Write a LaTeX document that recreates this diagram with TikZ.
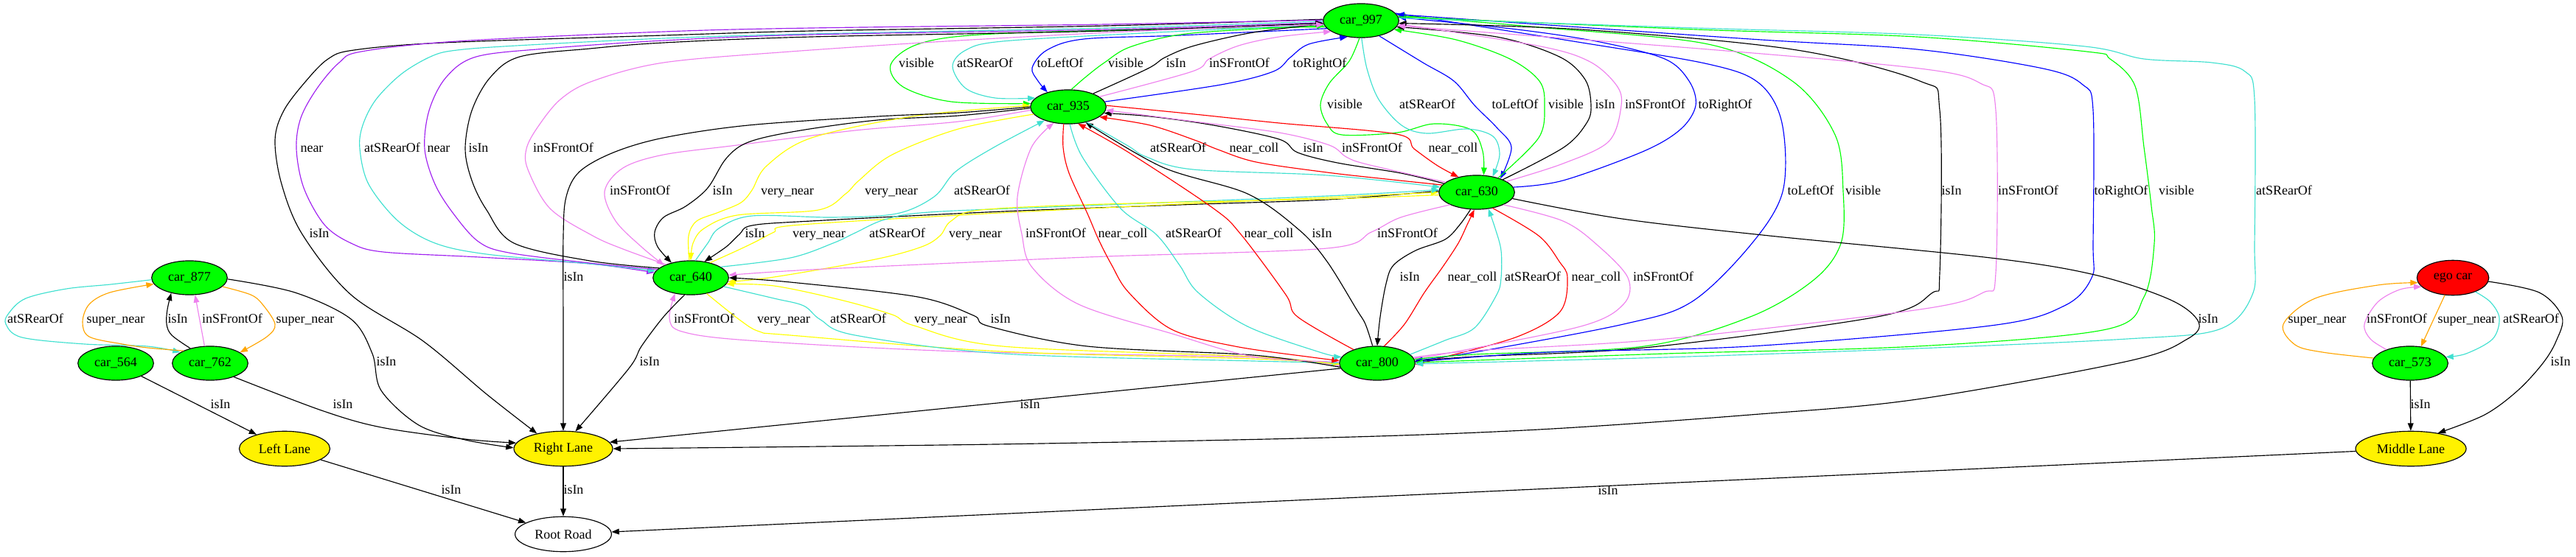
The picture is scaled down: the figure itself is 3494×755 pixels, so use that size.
\documentclass[tikz,border=0pt]{standalone}
\usepackage{fontspec}
\setmainfont{Liberation Serif}
\usetikzlibrary{arrows.meta,shapes.geometric}
\definecolor{cgreen}{HTML}{00FF00}
\definecolor{cturq}{HTML}{40E0D0}
\definecolor{cviol}{HTML}{EE82EE}
\definecolor{cpurp}{HTML}{A020F0}
\definecolor{cblue}{HTML}{0000FF}
\definecolor{cred}{HTML}{FF0000}
\definecolor{cyell}{HTML}{FFFF00}
\definecolor{corange}{HTML}{FFA500}
\newcommand\lblfont{\fontsize{14}{16}\selectfont}
\newcommand\elab[3]{\node[lbl] (#1) at (#2) {#3};}
\begin{document}
\begin{tikzpicture}[x=0.78pt,y=0.78pt,
  base/.style={ellipse, draw, line width=0.9pt, minimum height=36pt, inner sep=0pt, font=\lblfont},
  car/.style={base, fill=cgreen, minimum width=80pt},
  lane/.style={base, fill=yellow, minimum height=37pt},
  road/.style={base, fill=white, minimum width=102pt, minimum height=37pt},
  egon/.style={base, fill=red, minimum width=76pt, minimum height=37pt},
  lbl/.style={inner sep=0pt, font=\lblfont, text height=9pt, text depth=2.5pt},
  ed/.style={line width=0.9pt, -{Triangle[length=8pt,width=6pt]}},
  rin/.style={ed, draw=black},
  rvis/.style={ed, draw=cgreen},
  rrear/.style={ed, draw=cturq},
  rfront/.style={ed, draw=cviol},
  rleft/.style={ed, draw=cblue},
  rright/.style={ed, draw=cblue},
  rnear/.style={ed, draw=cpurp},
  rcoll/.style={ed, draw=cred},
  rvery/.style={ed, draw=cyell},
  rsuper/.style={ed, draw=corange},
  sm/.style={smooth, tension=0.55}
]
\useasboundingbox (0,0) rectangle (3494,-755);

% nodes
\node[car] (n997) at (1846,-28) {car\_997};
\node[car] (n935) at (1449,-145) {car\_935};
\node[car] (n630) at (2003,-261) {car\_630};
\node[car] (n640) at (937,-377) {car\_640};
\node[car] (n800) at (1868,-493) {car\_800};
\node[car] (n877) at (257,-377) {car\_877};
\node[car] (n564) at (157,-493) {car\_564};
\node[car] (n762) at (285,-493) {car\_762};
\node[lane, minimum width=96pt] (LL) at (386,-609) {Left Lane};
\node[lane, minimum width=104.5pt] (RL) at (764,-609) {Right Lane};
\node[road] (RR) at (764,-725) {Root Road};
\node[egon] (ego) at (3327,-377) {ego car};
\node[car] (n573) at (3269,-493) {car\_573};
\node[lane, minimum width=117pt] (ML) at (3270,-609) {Middle Lane};

% 997 <-> 935
\draw[rvis] plot[sm] coordinates {(n997.190) (1550,-40) (1330,-47) (1245,-60) (1208,-88) (1225,-118) (1290,-138) (n935.175)};
\draw[rrear] plot[sm] coordinates {(n997.186) (1550,-45) (1360,-56) (1310,-68) (1292,-90) (1310,-120) (1350,-133) (n935.165)};
\draw[rleft] plot[sm] coordinates {(n997.193) (1600,-48) (1470,-53) (1420,-68) (1400,-92) (1408,-110) (n935.145)};
\draw[rvis] plot[sm] coordinates {(n935.80) (1472,-105) (1498,-85) (1535,-63) (1617,-45) (n997.188)};
\draw[rin] plot[sm] coordinates {(n935.28) (1557,-93) (1580,-78) (1620,-62) (1700,-44) (n997.185)};
\draw[rfront] plot[sm] coordinates {(n935.18) (1617,-97) (1640,-80) (1680,-62) (1735,-50) (n997.200)};
\draw[rright] plot[sm] coordinates {(n935.8) (1656,-115) (1727,-97) (1750,-78) (1775,-60) (n997.230)};

% 997 <-> 630
\draw[rvis] plot[sm] coordinates {(n997.265) (1830,-83) (1803,-113) (1791,-142) (1800,-168) (1820,-183) (1895,-180) (1945,-168) (1995,-176) (2011,-205) (n630.68)};
\draw[rrear] plot[sm] coordinates {(n997.272) (1854,-93) (1870,-135) (1901,-170) (1935,-181) (1990,-175) (2025,-185) (2034,-210) (n630.45)};
\draw[rleft] plot[sm] coordinates {(n997.320) (1930,-85) (1972,-110) (2000,-143) (2030,-173) (2050,-200) (n630.30)};
\draw[rvis] plot[sm] coordinates {(n630.34) (2087,-187) (2095,-143) (2088,-110) (2048,-80) (1975,-54) (n997.345)};
\draw[rin] plot[sm] coordinates {(n630.26) (2121,-200) (2152,-167) (2158,-143) (2150,-108) (2115,-77) (2030,-50) (n997.350)};
\draw[rfront] plot[sm] coordinates {(n630.20) (2120,-222) (2182,-192) (2199,-143) (2192,-115) (2155,-83) (2085,-62) (n997.355)};
\draw[rright] plot[sm] coordinates {(n630.8) (2120,-245) (2230,-205) (2280,-175) (2300,-143) (2291,-110) (2258,-80) (2170,-57) (2058,-40) (n997.5)};

% 997 -> Right Lane, 997 <-> 640
\draw[rin] plot[sm] coordinates {(n997.178) (1500,-35) (1100,-42) (900,-48) (600,-58) (480,-68) (445,-80) (415,-110) (385,-150) (373,-190) (382,-250) (410,-318) (476,-400) (574,-463) (660,-535) (RL.150)};
\draw[rnear] plot[sm] coordinates {(n997.179) (1500,-33) (1100,-38) (900,-43) (620,-56) (490,-70) (460,-85) (430,-120) (408,-160) (402,-202) (412,-255) (440,-305) (476,-330) (520,-342) (650,-349) (800,-358) (n640.172)};
\draw[rrear] plot[sm] coordinates {(n997.181) (1500,-38) (1100,-46) (900,-52) (700,-62) (620,-68) (586,-76) (545,-100) (510,-135) (492,-170) (488,-202) (500,-250) (540,-300) (590,-330) (660,-345) (800,-358) (n640.169)};
\draw[rnear] plot[sm] coordinates {(n640.166) (800,-357) (690,-343) (649,-328) (615,-290) (590,-250) (576,-202) (582,-150) (605,-105) (646,-77) (740,-66) (900,-55) (1100,-47) (1500,-40) (n997.183)};
\draw[rin] plot[sm] coordinates {(n640.163) (800,-354) (697,-330) (660,-285) (640,-245) (631,-202) (640,-150) (665,-105) (705,-77) (800,-66) (900,-58) (1100,-50) (1500,-42) (n997.184)};
\draw[rfront] plot[sm] coordinates {(n640.152) (845,-338) (804,-320) (746,-283) (716,-230) (714,-202) (729,-173) (760,-135) (804,-110) (900,-85) (1072,-70) (1300,-55) (1550,-42) (n997.186)};

% 935 <-> 640
\draw[rfront] plot[sm] coordinates {(n935.185) (1300,-165) (1160,-177) (1000,-197) (900,-210) (845,-228) (820,-260) (835,-300) (870,-335) (n640.155)};
\draw[rin] plot[sm] coordinates {(n935.182) (1300,-157) (1190,-163) (1080,-178) (1015,-193) (985,-215) (960,-255) (930,-280) (900,-295) (888,-315) (892,-335) (n640.142)};
\draw[rvery] plot[sm] coordinates {(n640.95) (934,-320) (945,-300) (975,-288) (1005,-275) (1020,-258) (1040,-225) (1101,-187) (1244,-157) (n935.178)};
\draw[rvery] plot[sm] coordinates {(n935.192) (1300,-175) (1210,-210) (1165,-245) (1147,-263) (1110,-285) (1000,-292) (955,-310) (940,-330) (n640.90)};
\draw[rrear] plot[sm] coordinates {(n640.75) (960,-330) (975,-310) (1020,-293) (1130,-295) (1216,-290) (1267,-267) (1296,-233) (1348,-200) (n935.210)};

% 630 <-> 640
\draw[rin] plot[sm] coordinates {(n630.178) (1800,-271) (1600,-278) (1360,-287) (1100,-300) (1020,-306) (1003,-318) (985,-335) (n640.50)};
\draw[rvery] plot[sm] coordinates {(n640.38) (1000,-340) (1027,-327) (1050,-315) (1075,-306) (1300,-292) (1600,-277) (1800,-268) (n630.180)};
\draw[rrear] plot[sm] coordinates {(n640.20) (1072,-350) (1130,-330) (1160,-316) (1200,-298) (1260,-288) (1450,-280) (1800,-266) (n630.176)};
\draw[rvery] plot[sm] coordinates {(n630.184) (1800,-270) (1500,-277) (1330,-285) (1290,-300) (1275,-320) (1250,-335) (1187,-352) (1050,-376) (n640.354)};
\draw[rfront] plot[sm] coordinates {(n630.205) (1900,-295) (1860,-315) (1800,-337) (1500,-348) (1360,-354) (1100,-366) (n640.4)};

% 640 <-> 800
\draw[rfront] plot[sm] coordinates {(n800.184) (1700,-485) (1300,-477) (1015,-462) (925,-450) (908,-432) (n640.225)};
\draw[rvery] plot[sm] coordinates {(n640.315) (1003,-434) (1030,-450) (1072,-455) (1359,-477) (1700,-487) (n800.181)};
\draw[rrear] plot[sm] coordinates {(n640.345) (1050,-405) (1090,-415) (1113,-434) (1160,-455) (1360,-480) (1700,-490) (n800.179)};
\draw[rvery] plot[sm] coordinates {(n800.182) (1700,-484) (1360,-470) (1240,-442) (1210,-427) (1140,-407) (1050,-388) (n640.350)};
\draw[rin] plot[sm] coordinates {(n800.186) (1700,-482) (1475,-470) (1342,-443) (1320,-428) (1245,-403) (1072,-383) (n640.0)};

% 935 <-> 800
\draw[rfront] plot[sm] coordinates {(n800.178) (1700,-484) (1590,-453) (1463,-413) (1400,-363) (1386,-318) (1380,-267) (1399,-200) (n935.228)};
\draw[rcoll] plot[sm] coordinates {(n935.255) (1442,-200) (1450,-235) (1475,-290) (1490,-325) (1508,-360) (1531,-397) (1589,-447) (1675,-470) (1780,-485) (n800.176)};
\draw[rrear] plot[sm] coordinates {(n935.275) (1468,-213) (1520,-283) (1568,-318) (1600,-360) (1625,-397) (1692,-443) (1790,-478) (n800.170)};
\draw[rcoll] plot[sm] coordinates {(n800.150) (1760,-430) (1744,-400) (1683,-318) (1646,-283) (1531,-207) (n935.300)};
\draw[rin] plot[sm] coordinates {(n800.105) (1852,-440) (1840,-420) (1800,-355) (1762,-312) (1692,-263) (1577,-227) (n935.318)};

% 630 <-> 800
\draw[rin] plot[sm] coordinates {(n630.250) (1980,-305) (1960,-325) (1920,-340) (1890,-360) (1880,-385) (1872,-430) (n800.90)};
\draw[rcoll] plot[sm] coordinates {(n800.68) (1905,-440) (1932,-397) (1957,-362) (1978,-330) (1990,-305) (n630.262)};
\draw[rrear] plot[sm] coordinates {(n800.15) (1960,-462) (2000,-445) (2030,-400) (2036,-377) (2036,-340) (2028,-310) (n630.305)};
\draw[rcoll] plot[sm] coordinates {(n630.315) (2087,-320) (2115,-355) (2126,-377) (2116,-423) (2058,-457) (1950,-487) (n800.358)};
\draw[rfront] plot[sm] coordinates {(n630.335) (2120,-300) (2167,-333) (2208,-377) (2202,-413) (2144,-443) (1960,-480) (n800.8)};

% 997 <-> 800
\draw[rleft] plot[sm] coordinates {(n997.12) (2140,-57) (2317,-87) (2386,-113) (2417,-167) (2418,-260) (2374,-333) (2294,-410) (2202,-440) (2000,-478) (n800.4)};
\draw[rvis] plot[sm] coordinates {(n800.6) (2000,-481) (2230,-470) (2374,-430) (2460,-380) (2497,-330) (2500,-260) (2489,-183) (2431,-110) (2317,-60) (2087,-37) (n997.8)};
\draw[rin] plot[sm] coordinates {(n800.3) (2000,-484) (2230,-472) (2546,-430) (2620,-398) (2631,-370) (2631,-150) (2604,-110) (2431,-67) (2144,-40) (n997.356)};
\draw[rfront] plot[sm] coordinates {(n800.9) (2000,-476) (2259,-460) (2604,-420) (2690,-397) (2707,-370) (2707,-150) (2686,-113) (2604,-93) (2317,-67) (n997.352)};
\draw[rright] plot[sm] coordinates {(n800.2) (2100,-478) (2374,-470) (2700,-442) (2800,-415) (2837,-377) (2839,-330) (2839,-150) (2825,-115) (2771,-93) (2600,-67) (2374,-53) (n997.10)};
\draw[rvis] plot[sm] coordinates {(n997.6) (2300,-40) (2600,-50) (2830,-70) (2862,-80) (2896,-117) (2908,-200) (2918,-280) (2922,-330) (2908,-403) (2857,-447) (2600,-470) (2259,-480) (n800.1)};
\draw[rrear] plot[sm] coordinates {(n997.4) (2300,-38) (2600,-47) (2828,-63) (2908,-80) (3000,-85) (3045,-97) (3058,-135) (3058,-330) (3055,-400) (3010,-447) (2885,-460) (2600,-473) (2259,-485) (n800.359)};

% 935 <-> 630
\draw[rrear] plot[sm] coordinates {(n935.320) (1530,-198) (1555,-213) (1618,-230) (1800,-238) (n630.172)};
\draw[rcoll] plot[sm] coordinates {(n630.168) (1880,-243) (1800,-234) (1704,-220) (1652,-203) (1620,-190) (1560,-170) (n935.342)};
\draw[rin] plot[sm] coordinates {(n630.165) (1900,-235) (1814,-221) (1760,-207) (1735,-189) (1646,-170) (1560,-158) (n935.350)};
\draw[rfront] plot[sm] coordinates {(n630.162) (1854,-223) (1826,-213) (1803,-197) (1735,-180) (1620,-165) (n935.355)};
\draw[rcoll] plot[sm] coordinates {(n935.2) (1620,-155) (1735,-167) (1894,-182) (1918,-202) (1950,-225) (n630.140)};

% to lanes / road
\draw[rin] plot[sm] coordinates {(n935.180) (1300,-153) (1190,-158) (1015,-170) (900,-187) (832,-207) (786,-233) (768,-267) (764,-320) (764,-450) (RL.90)};
\draw[rin] plot[sm] coordinates {(n640.250) (900,-430) (870,-470) (853,-500) (RL.55)};
\draw[rin] (n800.188) -- (RL.8);
\draw[rin] plot[sm] coordinates {(n630.350) (2200,-297) (2400,-320) (2700,-350) (2841,-373) (2944,-407) (2982,-437) (2967,-460) (2887,-490) (2600,-542) (2374,-563) (2087,-583) (1800,-594) (1350,-603) (RL.0)};
\draw[rin] plot[sm] coordinates {(n877.358) (400,-397) (476,-433) (505,-480) (517,-530) (568,-577) (631,-597) (RL.179)};
\draw[rin] plot[sm] coordinates {(n762.330) (436,-557) (517,-580) (631,-596) (RL.173)};
\draw[rin] (n564) -- (LL);
\draw[rin] (LL) -- (RR);
\draw[rin] (RL) -- (RR);
\draw[rin] (ML) -- (RR);
\draw[rin] (n573) -- (ML);
\draw[rin] plot[sm] coordinates {(ego.354) (3444,-397) (3475,-430) (3467,-463) (3449,-493) (3415,-530) (3370,-563) (ML.30)};

% 877 / 762
\draw[rrear] plot[sm] coordinates {(n877.183) (150,-386) (90,-392) (35,-405) (12,-425) (8,-440) (30,-458) (115,-467) (200,-470) (n762.160)};
\draw[rsuper] plot[sm] coordinates {(n762.155) (200,-472) (166,-467) (121,-457) (112,-437) (121,-413) (149,-397) (n877.190)};
\draw[rin] plot[sm] coordinates {(n762.143) (233,-455) (226,-440) (227,-420) (n877.220)};
\draw[rfront] (n762.108) -- (n877.288);
\draw[rsuper] plot[sm] coordinates {(n877.345) (340,-400) (356,-413) (373,-440) (362,-457) (n762.20)};

% ego / 573
\draw[rsuper] plot[sm] coordinates {(n573.172) (3150,-478) (3113,-468) (3097,-440) (3140,-405) (3225,-387) (ego.188)};
\draw[rfront] plot[sm] coordinates {(n573.150) (3215,-460) (3207,-440) (3225,-410) (3255,-393) (ego.196)};
\draw[rsuper] (ego.245) -- (n573.57);
\draw[rrear] plot[sm] coordinates {(ego.328) (3378,-410) (3390,-432) (3381,-460) (3345,-480) (n573.10)};

% labels
\elab{t1}{1243,-87}{visible}
\elab{t2}{1336,-87}{atSRearOf}
\elab{t3}{1438,-87}{toLeftOf}
\elab{t4}{1527,-87}{visible}
\elab{t5}{1595,-87}{isIn}
\elab{t6}{1681,-87}{inSFrontOf}
\elab{t7}{1790,-87}{toRightOf}
\elab{t8}{1824,-143}{visible}
\elab{t9}{1936,-143}{atSRearOf}
\elab{t10}{2055,-143}{toLeftOf}
\elab{t11}{2124,-143}{visible}
\elab{t12}{2177,-143}{isIn}
\elab{t13}{2245,-143}{inSFrontOf}
\elab{t14}{2340,-143}{toRightOf}
\elab{t15}{423,-202}{near}
\elab{t16}{532,-202}{atSRearOf}
\elab{t17}{595,-202}{near}
\elab{t18}{649,-202}{isIn}
\elab{t19}{764,-202}{inSFrontOf}
\elab{t20}{1598,-202}{atSRearOf}
\elab{t21}{1701,-202}{near\_coll}
\elab{t22}{1781,-202}{isIn}
\elab{t23}{1861,-202}{inSFrontOf}
\elab{t24}{1971,-202}{near\_coll}
\elab{t25}{868,-260}{inSFrontOf}
\elab{t26}{980,-260}{isIn}
\elab{t27}{1068,-260}{very\_near}
\elab{t28}{1209,-260}{very\_near}
\elab{t29}{1332,-260}{atSRearOf}
\elab{t30}{2456,-260}{toLeftOf}
\elab{t31}{2527,-260}{visible}
\elab{t32}{2647,-260}{isIn}
\elab{t33}{2751,-260}{inSFrontOf}
\elab{t34}{2877,-260}{toRightOf}
\elab{t35}{2952,-260}{visible}
\elab{t36}{3098,-260}{atSRearOf}
\elab{t37}{433,-318}{isIn}
\elab{t38}{1024,-318}{isIn}
\elab{t39}{1111,-318}{very\_near}
\elab{t40}{1217,-318}{atSRearOf}
\elab{t41}{1323,-318}{very\_near}
\elab{t42}{1432,-318}{inSFrontOf}
\elab{t43}{1523,-318}{near\_coll}
\elab{t44}{1619,-318}{atSRearOf}
\elab{t45}{1721,-318}{near\_coll}
\elab{t46}{1793,-318}{isIn}
\elab{t47}{1909,-318}{inSFrontOf}
\elab{t48}{778,-377}{isIn}
\elab{t49}{1912,-377}{isIn}
\elab{t50}{1997,-377}{near\_coll}
\elab{t51}{2079,-377}{atSRearOf}
\elab{t52}{2165,-377}{near\_coll}
\elab{t53}{2256,-377}{inSFrontOf}
\elab{t54}{48,-434}{atSRearOf}
\elab{t55}{157,-434}{super\_near}
\elab{t56}{241,-434}{isIn}
\elab{t57}{315,-434}{inSFrontOf}
\elab{t58}{414,-434}{super\_near}
\elab{t59}{955,-434}{inSFrontOf}
\elab{t60}{1063,-434}{very\_near}
\elab{t61}{1164,-434}{atSRearOf}
\elab{t62}{1276,-434}{very\_near}
\elab{t63}{1357,-434}{isIn}
\elab{t64}{2995,-434}{isIn}
\elab{t65}{3143,-434}{super\_near}
\elab{t66}{3251,-434}{inSFrontOf}
\elab{t67}{3346,-434}{super\_near}
\elab{t68}{3433,-434}{atSRearOf}
\elab{t69}{524,-492}{isIn}
\elab{t70}{881,-492}{isIn}
\elab{t71}{3473,-492}{isIn}
\elab{t72}{299,-550}{isIn}
\elab{t73}{465,-550}{isIn}
\elab{t74}{1397,-550}{isIn}
\elab{t75}{3283,-550}{isIn}
\elab{t76}{612,-666}{isIn}
\elab{t77}{778,-666}{isIn}
\elab{t78}{2181,-667}{isIn}
\end{tikzpicture}
\end{document}
